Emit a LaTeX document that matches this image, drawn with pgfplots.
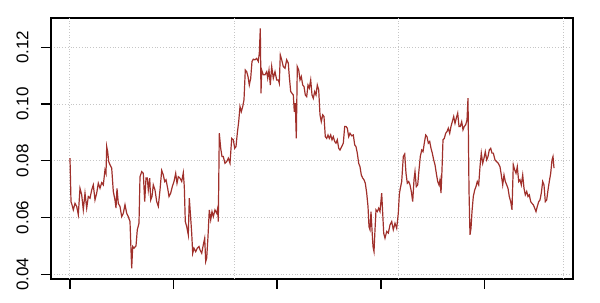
\documentclass[border=0pt]{standalone}
\usepackage{fontspec}
\setmainfont{Liberation Sans}
\usepackage{pgfplots}
\pgfplotsset{compat=1.18}
\definecolor{linebrown}{HTML}{A0302B}
\begin{document}
\begin{tikzpicture}
\begin{axis}[
  name=ax,
  scale only axis,
  width=261pt, height=130.5pt,
  xmin=51, xmax=573,
  ymin=0.03834, ymax=0.13033,
  axis line style={black, line width=0.55pt},
  tick align=outside,
  xtick pos=bottom, ytick pos=left,
  major tick length=5pt,
  tick style={black, line width=0.55pt},
  xtick={70,173.5,277,381,484.5},
  xticklabels={},
  extra x ticks={69.5,234.2,398.8,563.4},
  extra x tick labels={},
  extra x tick style={grid=major, major tick length=0pt, tick style={draw=none}},
  ytick={0.04,0.06,0.08,0.10,0.12},
  yticklabels={0.04,0.06,0.08,0.10,0.12},
  ymajorgrids,
  grid style={densely dotted, gray!45, line width=0.5pt},
  yticklabel style={rotate=90, anchor=south, font=\fontsize{8.5}{10}\selectfont, inner sep=0pt, yshift=6pt},
  /pgf/number format/assume math mode=true,
  clip=true,
]
\addplot[linebrown, line width=0.6pt] coordinates {
(70,0.0809)(71,0.0656)(72,0.0645)(73.3,0.0627)(75,0.065)(76.7,0.0639)(78.3,0.061)(80,0.0703)(81.7,0.068)(83.3,0.0627)
(85,0.0686)(86.7,0.0633)(88.3,0.0674)(90,0.0668)(91.7,0.0697)(93.3,0.0715)(95,0.0662)(96.7,0.0686)(98.3,0.0721)(100,0.0703)
(101.7,0.0723)(103.3,0.0715)(105,0.0768)(106,0.0756)(106.7,0.085)(107.7,0.0832)(108.7,0.0797)(110,0.0786)(111.7,0.0774)(113.3,0.0692)
(115,0.0662)(116,0.0633)(117,0.0703)(118.3,0.065)(120,0.0639)(121.7,0.0603)(123.3,0.0615)(125,0.0645)(126.7,0.0615)(128.3,0.0603)
(130,0.0586)(131,0.0486)(131.7,0.0421)(132.7,0.0498)(134,0.0492)(136,0.05)(137.3,0.0557)(139,0.058)(140,0.0744)(141.7,0.0762)
(143.3,0.0756)(144.7,0.0656)(146,0.0739)(147.3,0.0739)(148.3,0.0697)(149.7,0.0739)(150.7,0.0662)(152,0.0674)(153.3,0.0715)(155,0.0697)
(156.7,0.0656)(158.3,0.0639)(160,0.0697)(161.7,0.0766)(163.3,0.075)(164.7,0.0727)(166,0.0733)(167.7,0.0703)(169,0.0674)(170.7,0.0686)
(172.3,0.0709)(174,0.0727)(175.7,0.0756)(177,0.0721)(178.3,0.0744)(180,0.0739)(181.7,0.0727)(183.3,0.0758)(184.3,0.0709)(185.3,0.0586)
(186.7,0.0568)(188.3,0.0539)(189.3,0.0668)(190.7,0.0598)(191.7,0.0545)(192.7,0.0474)(194,0.0492)(195.7,0.048)(197.3,0.0492)(199,0.0498)
(200,0.0486)(201.7,0.0474)(203.3,0.0504)(204.7,0.0527)(205.7,0.0445)(206.7,0.0457)(208,0.0533)(209.3,0.0627)(210.7,0.0592)(212,0.0621)
(213.3,0.0603)(215,0.0627)(216.7,0.0615)(217.7,0.0633)(218.3,0.0586)(219.3,0.0897)(220.7,0.0844)(222,0.0815)(223.3,0.0815)(225,0.0791)
(226.7,0.0797)(228.3,0.0809)(230,0.0791)(231.7,0.0879)(233.3,0.0874)(234.7,0.0844)(236,0.085)(237.3,0.0897)(238.7,0.0938)(240,0.0991)
(241.3,0.0973)(242.7,0.0991)(244,0.1015)(245.3,0.112)(246.7,0.1114)(248,0.1097)(249.3,0.1067)(250.7,0.1091)(252,0.115)(253.3,0.1158)
(255,0.1156)(256.7,0.1161)(258.3,0.115)(259.3,0.1179)(260.3,0.1267)(261,0.1038)(261.7,0.112)(263.3,0.1103)(265,0.1103)(266.7,0.1114)
(267.7,0.1091)(269,0.112)(270.3,0.1067)(271.7,0.1132)(273.3,0.1091)(275,0.1114)(276.7,0.1085)(278.3,0.1085)(279.3,0.1073)(280.3,0.1173)
(281.7,0.1156)(283.3,0.1132)(285,0.1126)(286.7,0.1156)(288.3,0.1144)(289.3,0.1097)(290.7,0.1044)(292,0.1038)(293.3,0.1032)(294.3,0.0973)
(295.3,0.1003)(296.3,0.0879)(297.3,0.1132)(298.7,0.112)(300,0.1085)(301.3,0.1097)(302.7,0.1067)(304,0.1062)(305.3,0.1032)(306.7,0.1026)
(308,0.1067)(309.3,0.1056)(310.7,0.1085)(312,0.1032)(313.3,0.102)(314.7,0.1044)(316,0.1032)(317.3,0.1067)(318.7,0.105)(320,0.0962)
(321.3,0.0938)(322.7,0.0962)(324,0.0956)(325.3,0.0885)(326.7,0.0879)(328,0.0891)(329.3,0.0879)(330.7,0.0891)(332,0.0874)(333.3,0.0885)
(334.7,0.0868)(336,0.0862)(337.3,0.0874)(338.7,0.0844)(340,0.0838)(341.7,0.085)(343.3,0.0862)(344.7,0.0921)(346,0.0921)(347.3,0.0915)
(348.7,0.0885)(350,0.0897)(351.7,0.0888)(353.3,0.0891)(354.7,0.0856)(356,0.085)(357.3,0.0827)(358.7,0.0791)(360,0.0779)(361.3,0.075)
(362.7,0.0739)(364,0.0733)(365.3,0.0721)(366.7,0.0686)(368,0.0639)(369,0.0568)(370,0.0557)(371,0.0621)(372,0.0557)(373,0.0498)
(374,0.048)(375,0.0557)(376,0.0627)(377.3,0.0621)(378.7,0.0633)(380,0.0621)(381.7,0.0686)(382.7,0.0615)(383.7,0.0545)(385,0.0527)
(386.7,0.0551)(388.3,0.0545)(390,0.0574)(391.7,0.0586)(393.3,0.0557)(395,0.058)(396.7,0.0562)(398.3,0.0615)(399.3,0.068)(400,0.0697)
(401.7,0.0727)(403.3,0.0815)(404.7,0.0824)(406,0.0756)(407.3,0.0721)(408.7,0.0727)(410,0.0715)(411.3,0.0692)(412.7,0.0656)(414,0.0733)
(415,0.0762)(416.3,0.0709)(417.7,0.0715)(419,0.0768)(420.3,0.0815)(421.7,0.0838)(423,0.0832)(424.3,0.0862)(425.7,0.0891)(427,0.0885)
(428.3,0.0862)(429.7,0.0868)(431,0.0844)(432.3,0.0827)(433.7,0.0803)(435,0.0786)(436.3,0.0756)(437.7,0.0727)(439,0.0715)(440,0.0733)
(441,0.0686)(442,0.0768)(443,0.0874)(444.3,0.0879)(445.7,0.0897)(447,0.0903)(448.3,0.0915)(449.7,0.0897)(451,0.0921)(452.3,0.0938)
(453.7,0.0956)(455,0.0932)(456.3,0.095)(457.7,0.0968)(459,0.0921)(460.3,0.0921)(461.7,0.0938)(463,0.0909)(464.3,0.0921)(465.7,0.0927)
(467,0.0944)(468,0.1021)(469,0.0697)(470,0.0539)(471,0.0562)(472,0.0621)(473.3,0.0674)(474.7,0.0697)(476,0.0709)(477.3,0.0727)
(478.7,0.0715)(480,0.0779)(481.3,0.0827)(482.7,0.0791)(484,0.0809)(485.3,0.0832)(486.7,0.0803)(488,0.0815)(489.3,0.0838)(490.7,0.0844)
(492,0.0827)(493.3,0.0827)(495,0.0803)(496.7,0.0797)(498.3,0.0791)(500,0.0779)(501.3,0.075)(502.7,0.0715)(504,0.075)(505.3,0.0727)
(506.7,0.0715)(508,0.0703)(509.3,0.0674)(510.7,0.0656)(512,0.0627)(513.3,0.0786)(514.7,0.0768)(516,0.0756)(517.3,0.0779)(518.7,0.0727)
(520,0.0733)(521.3,0.0715)(522.7,0.075)(524,0.0703)(525.3,0.068)(526.7,0.0692)(528,0.0674)(529.3,0.068)(530.7,0.0656)(532,0.065)
(533.3,0.0645)(534.7,0.0633)(536,0.0621)(537.3,0.0639)(538.7,0.0656)(540,0.0662)(541.3,0.0686)(542.7,0.0727)(544,0.0715)(545.3,0.0656)
(546.7,0.0662)(548,0.0697)(549.3,0.0727)(550.7,0.0756)(552,0.0803)(553,0.0815)(554,0.0774)
};
\end{axis}
\pgfresetboundingbox
\path[use as bounding box] ([xshift=-25.5pt,yshift=-12pt]ax.south west) rectangle ([xshift=13.5pt,yshift=9pt]ax.north east);
\end{tikzpicture}
\end{document}
